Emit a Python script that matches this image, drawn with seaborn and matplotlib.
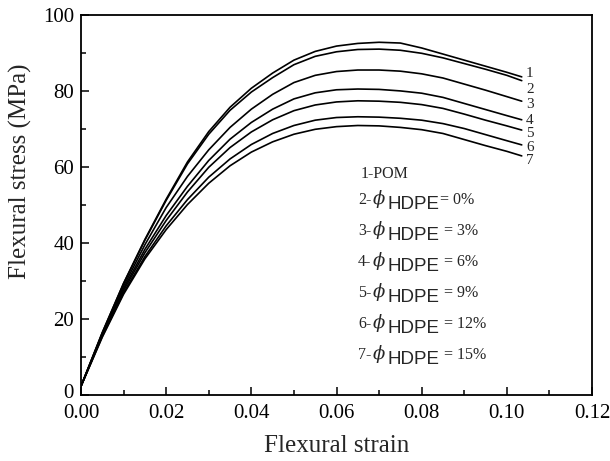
import numpy as np
import pandas as pd
import matplotlib
matplotlib.use("Agg")
import matplotlib.pyplot as plt
import matplotlib.transforms as mtransforms
import seaborn as sns
from matplotlib.ticker import MultipleLocator

# ---- data ----
strain = [0.0, 0.005, 0.01, 0.015, 0.02, 0.025, 0.03, 0.035, 0.04, 0.045, 0.05,
          0.055, 0.06, 0.065, 0.07, 0.075, 0.08, 0.085, 0.09, 0.095, 0.1, 0.1035]
stress_1 = [2.4, 16.5, 29.5, 41.0, 51.6, 61.4, 69.4, 75.8, 80.8, 84.8, 88.2,
            90.5, 91.9, 92.6, 92.9, 92.7, 91.4, 89.8, 88.2, 86.6, 85.0, 83.8]
stress_2 = [2.4, 16.5, 29.4, 40.8, 51.3, 60.9, 68.7, 75.0, 79.8, 83.6, 87.0,
            89.2, 90.4, 91.0, 91.1, 90.8, 90.0, 88.8, 87.3, 85.8, 84.2, 82.8]
stress_3 = [2.4, 16.2, 28.7, 39.6, 49.4, 57.6, 64.6, 70.5, 75.3, 79.2, 82.3,
            84.2, 85.2, 85.6, 85.6, 85.3, 84.6, 83.5, 81.9, 80.3, 78.6, 77.4]
stress_4 = [2.4, 16.0, 28.1, 38.4, 47.3, 55.0, 61.8, 67.4, 71.8, 75.3, 78.0,
            79.6, 80.4, 80.6, 80.5, 80.1, 79.5, 78.4, 76.8, 75.2, 73.6, 72.5]
stress_5 = [2.4, 15.8, 27.6, 37.5, 46.0, 53.5, 60.0, 65.2, 69.3, 72.5, 74.9,
            76.4, 77.2, 77.5, 77.4, 77.1, 76.5, 75.5, 74.0, 72.4, 70.9, 69.8]
stress_6 = [2.4, 15.5, 27.0, 36.5, 44.6, 51.5, 57.4, 62.2, 66.0, 68.9, 71.0,
            72.4, 73.1, 73.3, 73.2, 72.9, 72.4, 71.5, 70.2, 68.6, 67.0, 65.9]
stress_7 = [2.4, 15.3, 26.6, 35.9, 43.6, 50.2, 55.8, 60.4, 64.0, 66.7, 68.7,
            70.0, 70.7, 71.0, 70.9, 70.5, 69.9, 68.9, 67.3, 65.7, 64.2, 63.0]
curve_ids = ["1", "2", "3", "4", "5", "6", "7"]
legend_fractions = ["0%", "3%", "6%", "9%", "12%", "15%"]
x_ticks = [0.00, 0.02, 0.04, 0.06, 0.08, 0.10, 0.12]
y_ticks = [0, 20, 40, 60, 80, 100]

all_stress = [stress_1, stress_2, stress_3, stress_4, stress_5, stress_6, stress_7]
df = pd.concat([pd.DataFrame({"strain": strain, "stress": s, "curve": cid})
                for cid, s in zip(curve_ids, all_stress)], ignore_index=True)

sns.set_style("ticks")
SERIF = ["Liberation Serif", "DejaVu Serif"]
SANS = ["Liberation Sans", "DejaVu Sans"]
plt.rcParams["font.family"] = SERIF
plt.rcParams["mathtext.fontset"] = "dejavuserif"

fig = plt.figure(figsize=(6.10, 4.61), dpi=100)
ax = fig.add_axes([81 / 610, 1 - 395.3 / 461, (592 - 81) / 610, (395.3 - 15.3) / 461])

sns.lineplot(data=df, x="strain", y="stress", hue="curve", palette=["black"] * 7,
             linewidth=1.2, legend=False, ax=ax, sort=False)

ax.set_xlim(0, 0.12)
ax.set_ylim(0, 100)
ax.set_xticks(x_ticks)
ax.set_xticklabels([f"{v:.2f}" for v in x_ticks])
ax.set_yticks(y_ticks)
ax.set_yticklabels([str(v) for v in y_ticks])
ax.xaxis.set_minor_locator(MultipleLocator(0.01))
ax.yaxis.set_minor_locator(MultipleLocator(10))
ax.tick_params(which="both", direction="in", top=False, right=False, width=1.1,
               labelsize=15, colors="black")
ax.tick_params(which="major", length=6)
ax.tick_params(axis="x", which="major", pad=6)
ax.tick_params(axis="y", which="major", pad=5)
ax.tick_params(which="minor", length=3.5)
for sp in ax.spines.values():
    sp.set_linewidth(1.3)
    sp.set_color("black")

# nudge the y "0" label up a little so it sits above "0.00" as in the reference
zero_lbl = ax.get_yticklabels()[0]
zero_lbl.set_transform(zero_lbl.get_transform() +
                       mtransforms.ScaledTranslation(0, 4 / 100, fig.dpi_scale_trans))

ax.set_xlabel("Flexural strain", fontsize=18, labelpad=9)
ax.set_ylabel("Flexural stress (MPa)", fontsize=18)
ax.yaxis.set_label_coords(-0.096, 0.59)

# curve numbers at the right ends
end_label_y = [84.7, 80.4, 76.4, 72.4, 69.0, 65.3, 61.9]
for cid, ly in zip(curve_ids, end_label_y):
    ax.text(0.1045, ly, cid, fontsize=11, va="center", ha="left")

# legend text block
fig.canvas.draw()
r = fig.canvas.get_renderer()
H = 461


def piece(x, y, s, **kw):
    t = fig.text(x / 610, (H - y) / H, s, va="baseline", ha="left", **kw)
    bb = t.get_window_extent(r)
    return bb.x1


piece(361, 178, "1-POM", fontsize=11.5, family=SERIF)
for i, frac in enumerate(legend_fractions):
    y = 204 + 31 * i
    x = piece(358, y, f"{i + 2}-", fontsize=11.5, family=SERIF)
    x = piece(x + 1, y, r"$\phi$", fontsize=13)
    x = piece(x + 1, y + 5, "HDPE", fontsize=13.5, family=SANS)
    eq = "= " if i == 0 else " = "
    piece(x + 1, y, eq + frac, fontsize=11.5, family=SERIF)

fig.savefig("out.png", dpi=100)
